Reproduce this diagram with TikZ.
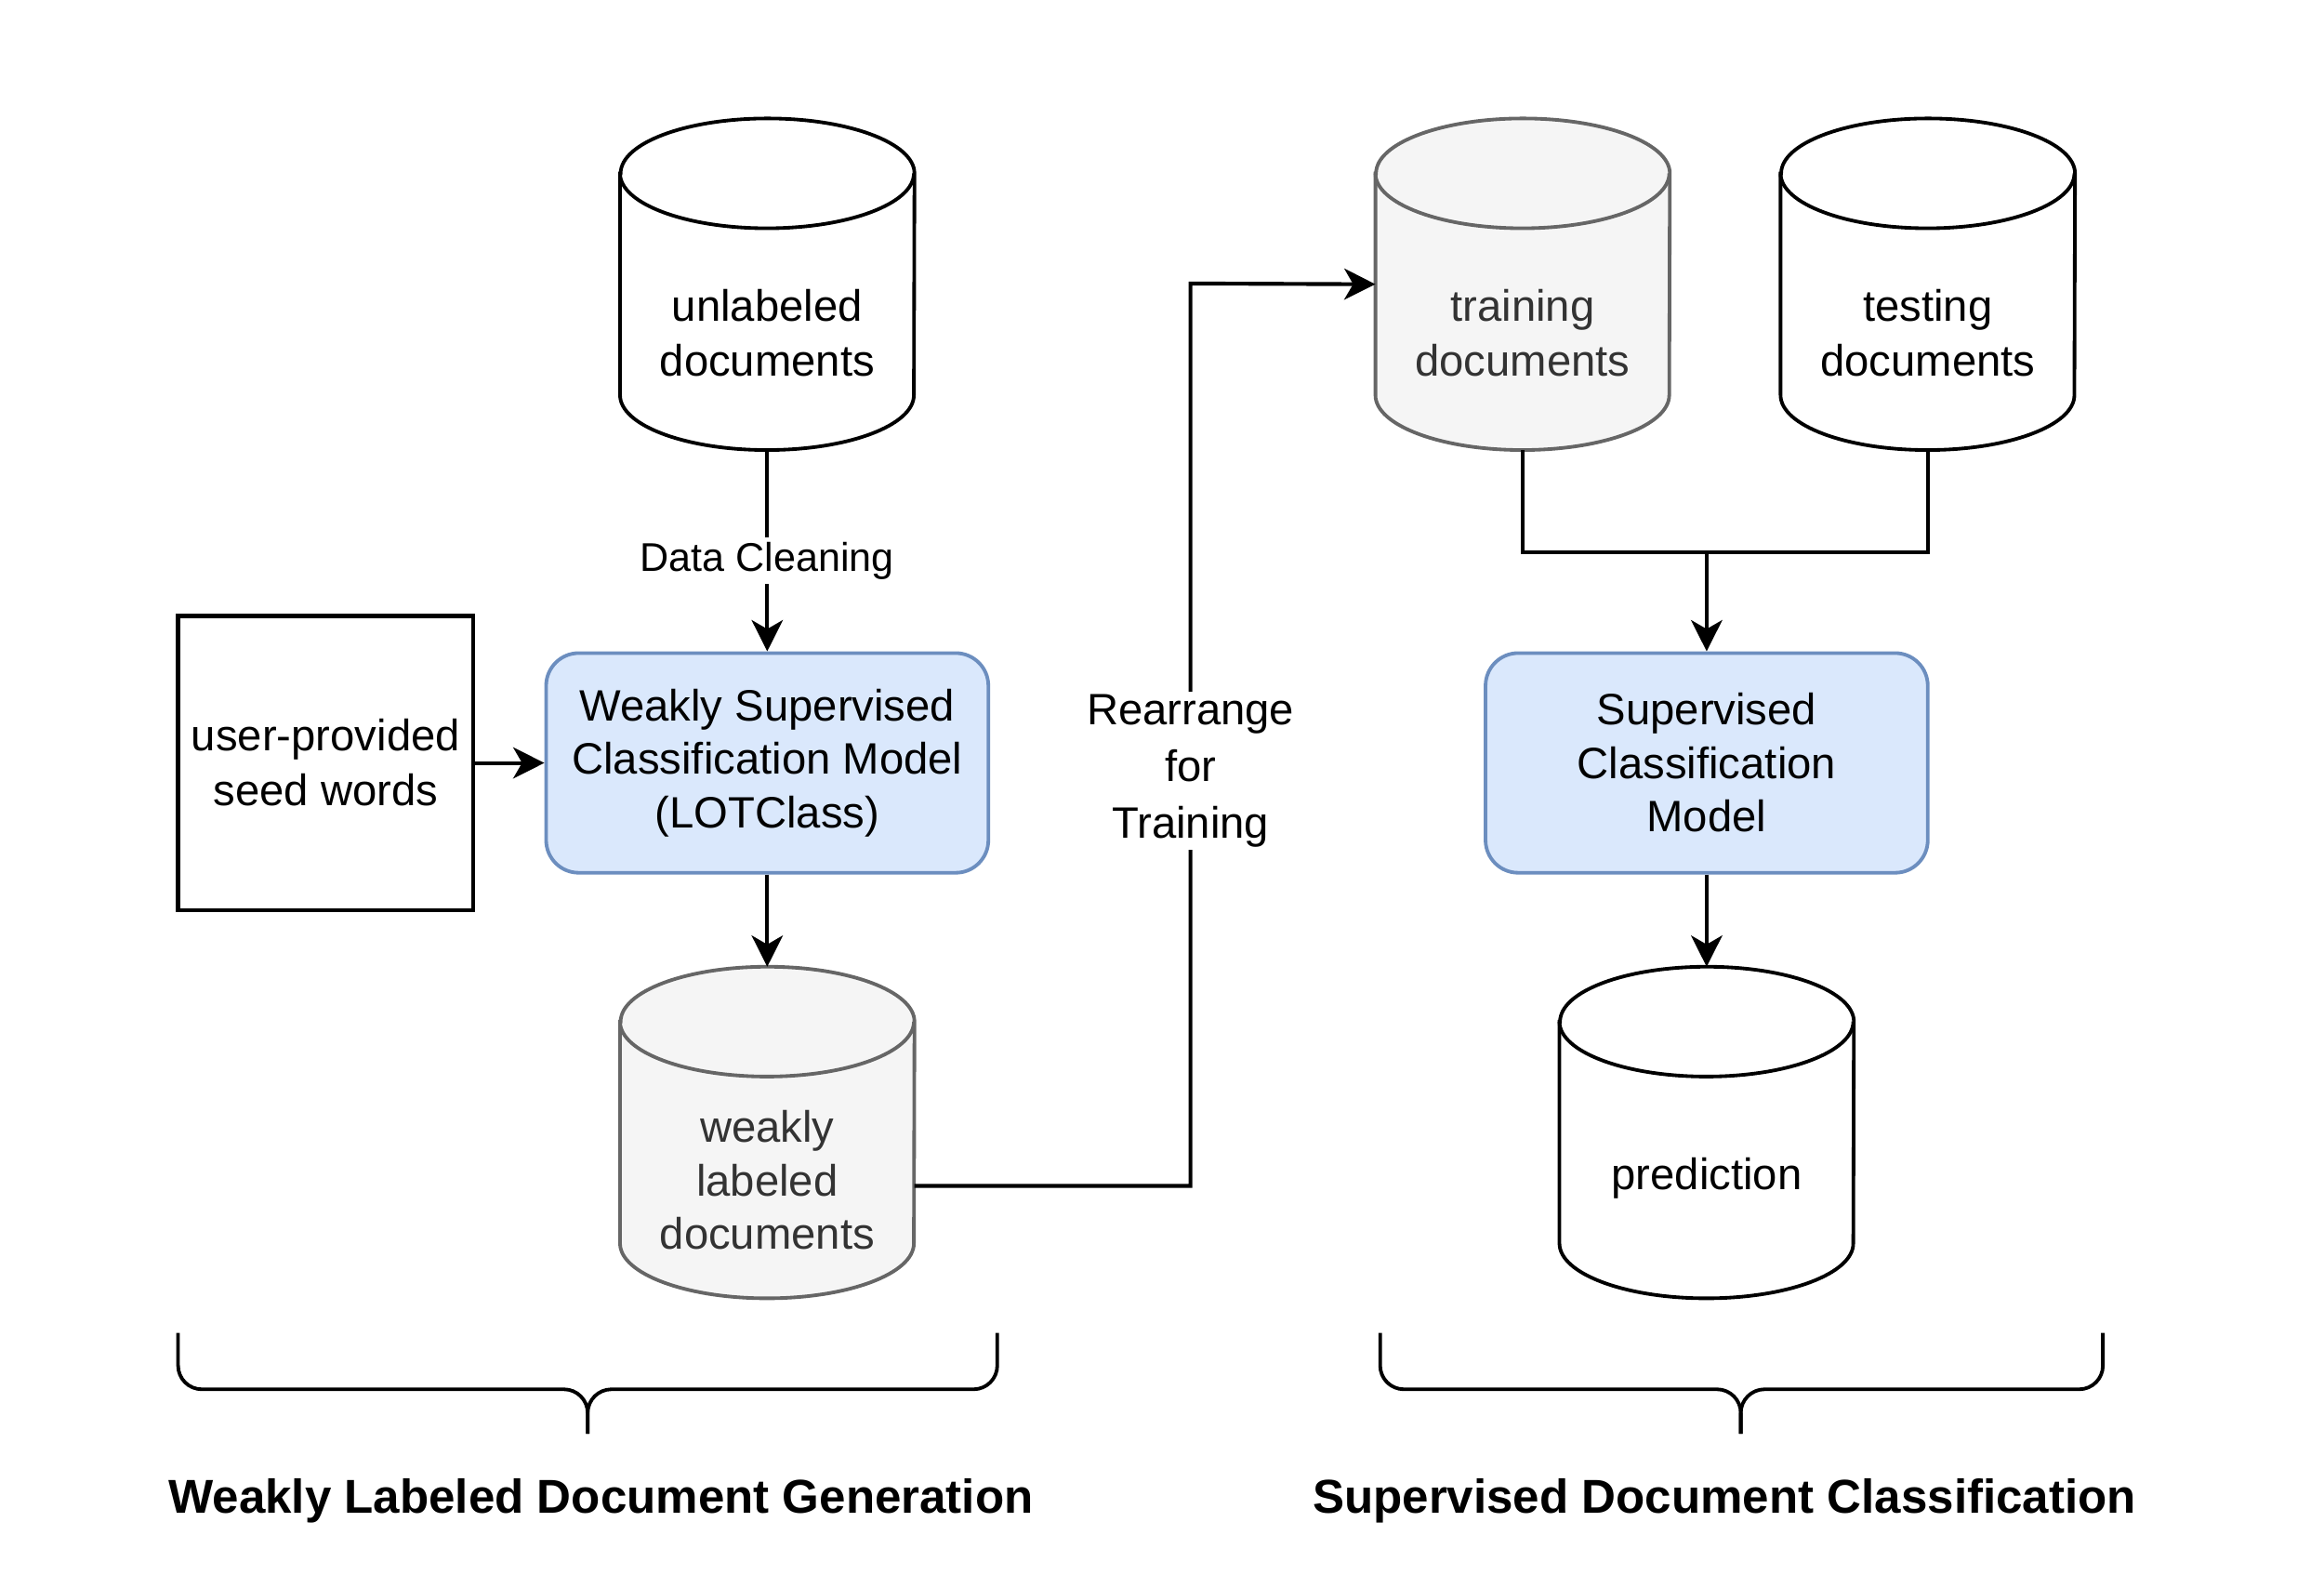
\documentclass[tikz,border=0pt]{standalone}
\usepackage{fontspec}
\setmainfont{Liberation Sans}
\usetikzlibrary{arrows.meta,backgrounds}
\definecolor{bfill}{HTML}{DAE8FC}
\definecolor{bdraw}{HTML}{6C8EBF}
\definecolor{gfill}{HTML}{F5F5F5}
\definecolor{gdraw}{HTML}{666666}
\definecolor{gtext}{HTML}{333333}
\newcommand\mycyl[3]{%
  \draw[#3, fill=#2, line width=2.4pt]
    ([yshift=-37pt]#1.north west) -- ([yshift=37pt]#1.south west)
    arc[start angle=180,end angle=360,x radius=99pt,y radius=37pt]
    -- ([yshift=-37pt]#1.north east)
    arc[start angle=0,end angle=180,x radius=99pt,y radius=37pt] -- cycle;
  \draw[#3, line width=2.4pt] ([yshift=-37pt]#1.north west)
    arc[start angle=180,end angle=360,x radius=99pt,y radius=37pt];
}
\tikzset{
  cylbox/.style={rectangle, draw=none, inner sep=0pt, minimum width=198pt, minimum height=223pt},
  txt/.style={align=center, inner sep=0pt, font=\fontsize{29.6}{37}\selectfont},
  bluebox/.style={rectangle, rounded corners=22pt, draw=bdraw, fill=bfill, line width=2.4pt,
    minimum width=298pt, minimum height=148pt, align=center, font=\fontsize{29.6}{36}\selectfont},
  plainbox/.style={rectangle, draw=black, line width=2.6pt, minimum width=199pt, minimum height=198pt,
    align=center, font=\fontsize{29.6}{37}\selectfont},
  conn/.style={line width=2.6pt, draw=black},
  arr/.style={conn, -{Stealth[length=21pt,width=21pt,inset=6pt]}},
  brace/.style={line width=2.4pt, rounded corners=16pt},
  lbl/.style={fill=white, inner sep=3pt, align=center},
  title/.style={font=\fontsize{32}{38}\selectfont\bfseries}
}
\begin{document}
\begin{tikzpicture}[x=1pt,y=-1pt]
\useasboundingbox (0,0) rectangle (1566,1060.5);
% cylinder frames
\node[cylbox] (unl) at (517,191.5) {};
\node[cylbox] (trn) at (1026,191.5) {};
\node[cylbox] (tst) at (1299,191.5) {};
\node[cylbox] (wl) at (517,763) {};
\node[cylbox] (pred) at (1150,763) {};
\begin{scope}[on background layer]
\fill[white] (0,0) rectangle (1566,1060.5);
\mycyl{unl}{white}{black}
\mycyl{trn}{gfill}{gdraw}
\mycyl{tst}{white}{black}
\mycyl{wl}{gfill}{gdraw}
\mycyl{pred}{white}{black}
\end{scope}
\node[txt] (unlt) at ([yshift=-33pt]unl.center) {unlabeled\\documents};
\node[txt, text=gtext] (trnt) at ([yshift=-33pt]trn.center) {training\\documents};
\node[txt] (tstt) at ([yshift=-33pt]tst.center) {testing\\documents};
\node[txt, text=gtext, font=\fontsize{29.6}{36}\selectfont] (wlt) at ([yshift=-32pt]wl.center) {weakly\\labeled\\documents};
\node[txt] (predt) at ([yshift=-31pt]pred.center) {prediction};
% boxes
\node[plainbox] (seed) at (219.5,514) {user-provided\\seed words};
\node[bluebox] (ws) at (517,514) {Weakly Supervised\\Classification Model\\(LOTClass)};
\node[bluebox] (sup) at (1150,514) {Supervised\\Classification\\Model};
% connectors
\draw[arr] (unl.south) -- node[lbl, pos=0.55, font=\fontsize{27}{32}\selectfont] {Data Cleaning} (ws.north);
\draw[arr] (seed.east) -- (ws.west);
\draw[arr] (ws.south) -- (wl.north);
\draw[arr] ([yshift=-36pt]wl.east) -- ++(186,0)
  -- node[lbl, pos=0.46, font=\fontsize{29.6}{38}\selectfont, inner sep=2pt] {Rearrange\\for\\Training} ++(0,-608)
  -- (trn.west);
\coordinate (mrg) at (1150,372);
\draw[conn] (trn.south) |- (mrg);
\draw[conn] (tst.south) |- (mrg);
\draw[arr] (mrg) -- (sup.north);
\draw[arr] (sup.south) -- (pred.north);
% braces
\draw[brace] (120,898) -- (120,936) -- (396,936) -- (396,966);
\draw[brace] (672,898) -- (672,936) -- (396,936) -- (396,966);
\draw[brace] (930,898) -- (930,936) -- (1173,936) -- (1173,966);
\draw[brace] (1417,898) -- (1417,936) -- (1173,936) -- (1173,966);
% titles
\node[title] (t1) at (405,1011) {Weakly Labeled Document Generation};
\node[title] (t2) at (1162,1011) {Supervised Document Classification};
\end{tikzpicture}
\end{document}
